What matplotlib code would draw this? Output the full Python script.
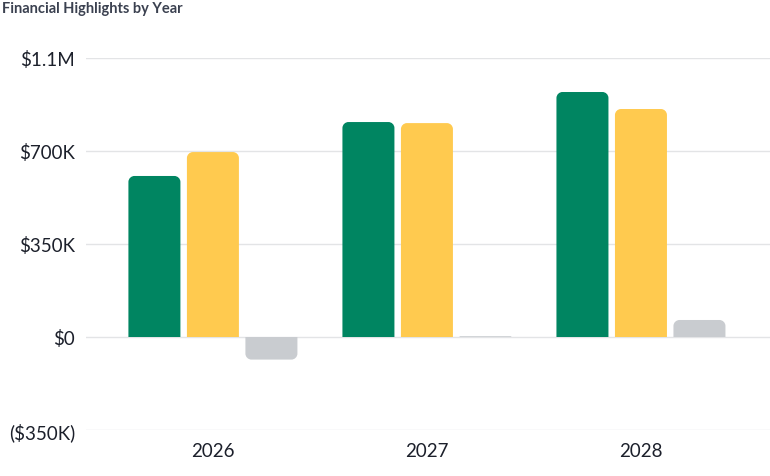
import numpy as np
import matplotlib.pyplot as plt
from matplotlib.path import Path
from matplotlib.patches import PathPatch

# data
years = ["2026", "2027", "2028"]
series_a = [606000, 809000, 922000]   # green
series_b = [696000, 805000, 858000]   # yellow
series_c = [-85000, 3000, 64000]      # gray
tick_vals = [-350000, 0, 350000, 700000, 1050000]
tick_labels = ["($350K)", "$0", "$350K", "$700K", "$1.1M"]

colors = ["#008561", "#FFCA4F", "#C9CCD0"]

plt.rcParams['font.family'] = ['Lato', 'DejaVu Sans']

W, H = 770, 477
fig = plt.figure(figsize=(W / 100, H / 100), dpi=100)
# axes box in pixels: left 86, right 770, top 59, bottom 431
ax = fig.add_axes([86 / W, 1 - 431 / H, (770 - 86) / W, (431 - 59) / H])
ax.set_xlim(-0.593, 2.603)
ax.set_ylim(-350000, 1050000)

for s in ax.spines.values():
    s.set_visible(False)
ax.set_yticks(tick_vals)
ax.set_yticklabels(tick_labels)
ax.set_xticks(range(len(years)))
ax.set_xticklabels(years)
ax.tick_params(axis='both', length=0, labelsize=13.5, colors="#1C202B")
ax.tick_params(axis='y', pad=8)
ax.tick_params(axis='x', pad=9)
ax.grid(axis='y', color="#E3E4E6", linewidth=1)
ax.set_axisbelow(True)

# pixel -> data scale
px_x = (2.603 + 0.593) / (770 - 86)
px_y = (1050000 + 350000) / (431 - 59)


def rounded_bar(x0, width, value, color, r_px=6):
    x1 = x0 + width
    sign = 1 if value >= 0 else -1
    h_px = abs(value) / px_y
    r = min(r_px, h_px, width / px_x / 2)
    rx = r * px_x
    ry = r * px_y * sign
    k = 0.5523
    verts = [(x0, 0), (x0, value - ry), (x0, value - ry + k * ry), (x0 + rx - k * rx, value),
             (x0 + rx, value), (x1 - rx, value), (x1 - rx + k * rx, value),
             (x1, value - ry + k * ry), (x1, value - ry), (x1, 0), (x0, 0)]
    codes = [Path.MOVETO, Path.LINETO, Path.CURVE4, Path.CURVE4, Path.CURVE4,
             Path.LINETO, Path.CURVE4, Path.CURVE4, Path.CURVE4, Path.LINETO, Path.CLOSEPOLY]
    ax.add_patch(PathPatch(Path(verts, codes), facecolor=color, edgecolor='none', zorder=3))


bar_w = 52 * px_x
step = 58.5 * px_x
for i in range(len(years)):
    for j, vals in enumerate([series_a, series_b, series_c]):
        x0 = i + (j - 1) * step - bar_w / 2
        rounded_bar(x0, bar_w, vals[i], colors[j])

fig.text(2 / W, 1 - 9 / H, "Financial Highlights by Year", fontsize=10.5, fontweight='bold',
         color="#3B4150", va='center', ha='left')

fig.savefig("out.png", dpi=100)
